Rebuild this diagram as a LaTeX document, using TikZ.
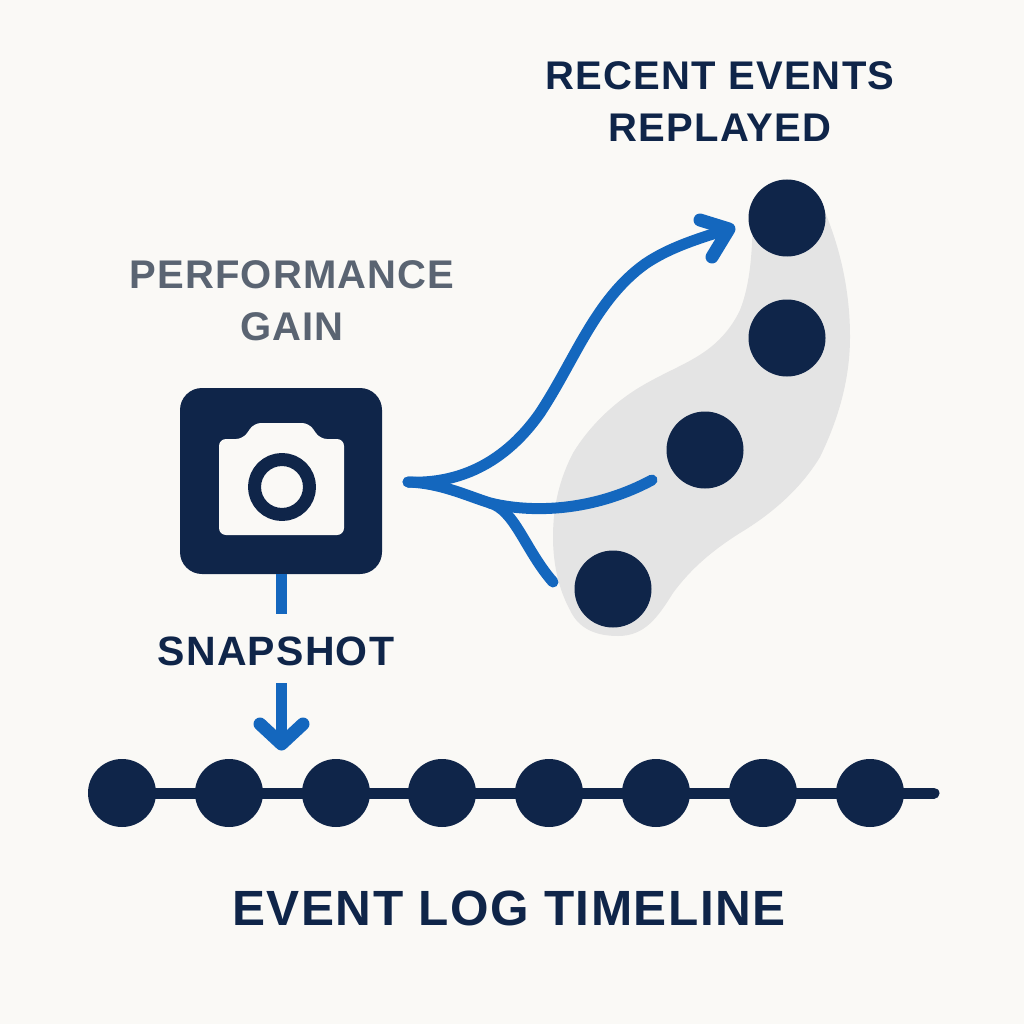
\documentclass[tikz,border=0pt]{standalone}
\usepackage{fontspec}
\setmainfont[LetterSpace=3]{Liberation Sans}
\usepackage{tikz}
\usetikzlibrary{
    arrows,
    calc,
    positioning,
}
\definecolor{navy}{HTML}{0F2549}
\definecolor{flow}{HTML}{1467BE}
\definecolor{slate}{HTML}{5A6472}
\definecolor{paper}{HTML}{FAF9F6}
\definecolor{blob}{HTML}{E4E4E4}

\begin{document}
\begin{tikzpicture}[x=1pt,y=-1pt,line cap=round,line join=round]

    \tikzstyle{event}=[circle, fill=navy, minimum size=68pt, inner sep=0pt]
    \tikzstyle{replayed}=[circle, fill=navy, minimum size=77pt, inner sep=0pt]
    \tikzstyle{caption}=[font=\bfseries\fontsize{40}{52}\selectfont, text=navy, align=center]
    \tikzstyle{gain}=[caption, text=slate]
    \tikzstyle{branch}=[draw=flow, line width=11pt]
    \tikzstyle{head}=[branch, line width=13pt]

    % Background
    \fill[paper] (0,0) rectangle (1024,1024);
    \useasboundingbox (0,0) rectangle (1024,1024);

    % Shaded region
    \fill[blob] (790,190) .. controls (810,195) and (822,205) .. (827,217)
        .. controls (842,255) and (850,295) .. (850,337)
        .. controls (850,380) and (838,420) .. (820,457)
        .. controls (800,490) and (770,515) .. (740,533)
        .. controls (710,552) and (690,570) .. (673,593)
        .. controls (658,617) and (645,636) .. (618,636)
        .. controls (595,636) and (578,628) .. (570,610)
        .. controls (559,590) and (553,565) .. (553,537)
        .. controls (553,505) and (560,478) .. (573,453)
        .. controls (590,425) and (615,402) .. (640,387)
        .. controls (665,372) and (688,364) .. (707,350)
        .. controls (722,339) and (733,325) .. (740,310)
        .. controls (748,290) and (751,265) .. (752,243)
        .. controls (753,215) and (765,195) .. (790,190) -- cycle;

    % Timeline
    \coordinate (lineEnd) at (934,793);
    \foreach \i/\x in {1/122,2/229,3/336,4/442,5/549,6/656,7/763,8/870}
        \node[event] (ev\i) at (\x,793) {};
    \draw[navy, line width=11pt] (ev1.center) -- (lineEnd);

    % Replayed events
    \node[replayed] (r1) at (787,218) {};
    \node[replayed] (r2) at (787,338) {};
    \node[replayed] (r3) at (705,450) {};
    \node[replayed] (r4) at (613,589) {};

    % Snapshot box
    \node[rectangle, rounded corners=22pt, fill=navy, minimum width=202pt, minimum height=186pt] (snap) at (281,481) {};
    \fill[paper, rounded corners=7pt] (219,439) -- (243,439) -- (254,423) -- (309,423) -- (320,439) -- (344,439) -- (344,535) -- (219,535) -- cycle;
    \node[circle, draw=navy, line width=13pt, minimum size=55pt, inner sep=0pt] (lens) at (282,487) {};

    % Labels
    \node[gain] (gainLabel) at (292,301) {PERFORMANCE\\GAIN};
    \node[caption] (recentLabel) at (720,102) {RECENT EVENTS\\REPLAYED};
    \node[caption, font=\bfseries\fontsize{41}{52}\selectfont] (snapLabel) at (276,651) {SNAPSHOT};
    \node[caption, font=\bfseries\fontsize{49.5}{60}\selectfont] (logLabel) at (509,908) {EVENT LOG TIMELINE};

    % Connectors
    \coordinate (fork) at (408,482);
    \coordinate (split) at (490,503);
    \coordinate (tipUp) at (729,229);
    \coordinate (headTop) at (700,220);
    \coordinate (headLow) at (712,257);
    \coordinate (endMid) at (652,480);
    \coordinate (endLow) at (553,582);
    \coordinate (snapTail) at (281.5,614);
    \draw[branch] (fork) .. controls (450,484) and (500,470) .. (540,413)
        .. controls (575,360) and (595,300) .. (645,264) .. controls (670,247) and (700,238) .. (tipUp);
    \draw[head] (headTop) -- (tipUp) -- (headLow);
    \draw[branch] (fork) .. controls (440,483) and (465,495) .. (split)
        .. controls (540,515) and (600,508) .. (endMid);
    \draw[branch] (split) .. controls (515,510) and (525,550) .. (endLow);
    \draw[branch, line cap=butt] (snap.south -| snapTail) -- (snapTail);
    \coordinate (arrowTail) at (281.5,683);
    \coordinate (arrowTip) at (281.5,744);
    \coordinate (arrowLeft) at (260,724);
    \coordinate (arrowRight) at (303,724);
    \draw[branch, line cap=butt] (arrowTail) -- (arrowTip);
    \draw[head] (arrowLeft) -- (arrowTip) -- (arrowRight);

\end{tikzpicture}
\end{document}
